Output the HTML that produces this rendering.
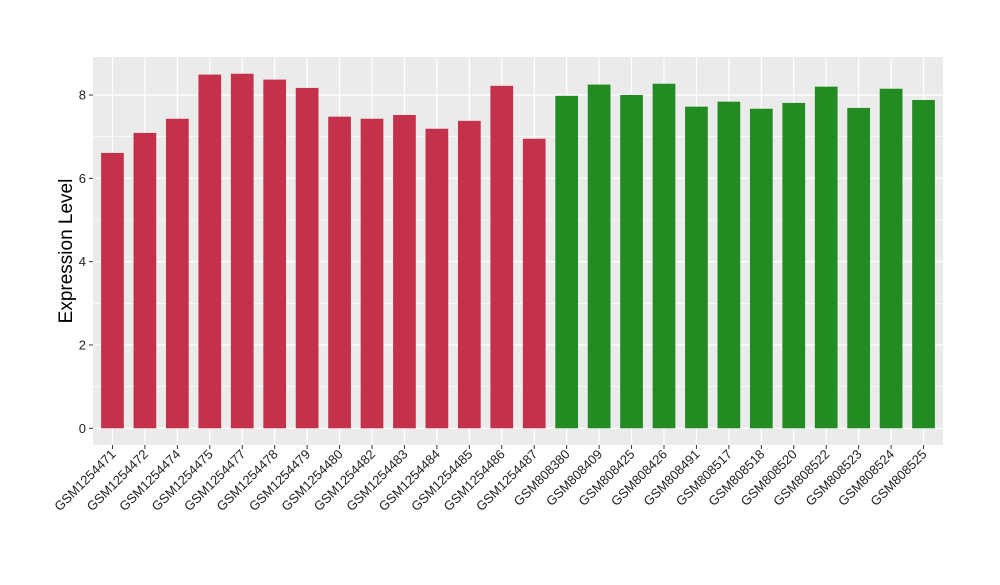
<!DOCTYPE html>
<html><head><meta charset="utf-8"><style>
body{margin:0;background:#fff;font-family:"Liberation Sans",Arial,sans-serif}
</style></head><body>
<svg width="1000" height="580" xmlns="http://www.w3.org/2000/svg">
<rect x="93" y="57" width="850" height="388" fill="#ebebeb"/>
<g id="grid"></g><g id="bars"></g><g id="axes"></g>
<text transform="translate(72,251) rotate(-90)" text-anchor="middle" font-size="19" fill="#000">Expression Level</text>
</svg>
<script>
const categories=["GSM1254471","GSM1254472","GSM1254474","GSM1254475","GSM1254477","GSM1254478","GSM1254479","GSM1254480","GSM1254482","GSM1254483","GSM1254484","GSM1254485","GSM1254486","GSM1254487","GSM808380","GSM808409","GSM808425","GSM808426","GSM808491","GSM808517","GSM808518","GSM808520","GSM808522","GSM808523","GSM808524","GSM808525"];
const values=[6.61,7.09,7.43,8.49,8.51,8.37,8.17,7.48,7.43,7.52,7.19,7.38,8.22,6.95,7.98,8.25,8.0,8.27,7.72,7.84,7.67,7.81,8.2,7.69,8.15,7.88];
const groups=[0,0,0,0,0,0,0,0,0,0,0,0,0,0,1,1,1,1,1,1,1,1,1,1,1,1];
const yTicks=[0,2,4,6,8];
const colors=["#c3324a","#228b22"];
const NS="http://www.w3.org/2000/svg";
const x0=93,x1=943,yTop=57,yBot=445;
const y=v=>428.3-v*(428.3-95)/8;
const step=(x1-x0)/(categories.length+0.2);
const x=i=>x0+step*0.6+i*step;
const bw=step*0.7;
function mk(t,a,p){const e=document.createElementNS(NS,t);for(const k in a)e.setAttribute(k,a[k]);p.appendChild(e);return e;}
const grid=document.getElementById('grid'),bars=document.getElementById('bars'),axes=document.getElementById('axes');
for(let v=1;v<=9;v+=2){if(y(v)<yTop)continue;const l=mk('line',{x1:x0,x2:x1,y1:y(v),y2:y(v),stroke:'#fff','stroke-width':0.6},grid);

}
yTicks.forEach(v=>{const l=mk('line',{x1:x0,x2:x1,y1:y(v),y2:y(v),stroke:'#fff','stroke-width':1.2},grid);


const tk=mk('line',{x1:x0-4,x2:x0,y1:y(v),y2:y(v),stroke:'#333','stroke-width':1},axes);


const t=mk('text',{x:x0-7,y:y(v)+4.5,'text-anchor':'end','font-size':13,fill:'#222'},axes);t.textContent=v;

});
categories.forEach((c,i)=>{const cx=x(i);
const g=mk('line',{x1:cx,x2:cx,y1:yTop,y2:yBot,stroke:'#fff','stroke-width':1.2},grid);


const r=mk('rect',{x:cx-bw/2,y:y(values[i]),width:bw,height:y(0)-y(values[i]),fill:colors[groups[i]]},bars);


const tk=mk('line',{x1:cx,x2:cx,y1:yBot,y2:yBot+4,stroke:'#333','stroke-width':1},axes);


const t=mk('text',{transform:`translate(${cx+4},${yBot+10}) rotate(-45)`,'text-anchor':'end','font-size':13,fill:'#222'},axes);t.textContent=c;

});
</script>
</body></html>
